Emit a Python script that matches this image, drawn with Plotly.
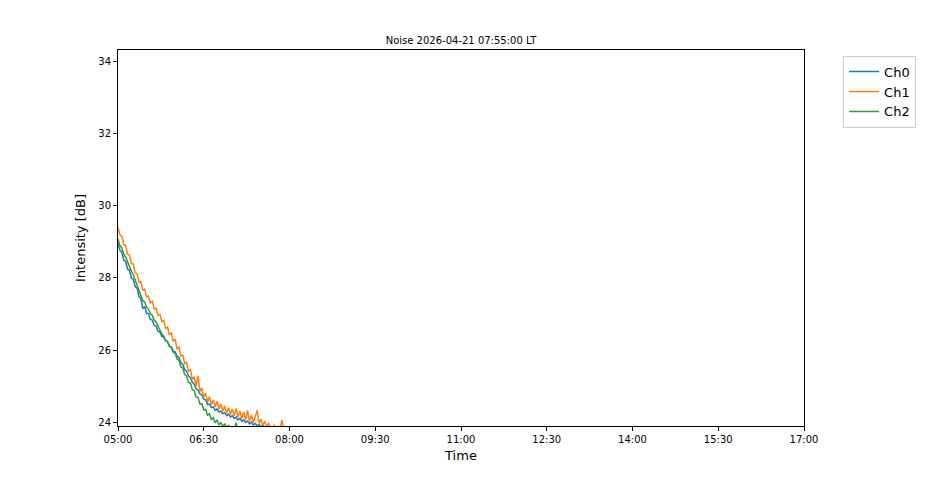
import pandas as pd
import plotly.graph_objects as go

# minutes after 05:00 local time, 2-minute sampling
minutes = list(range(0, 176, 2))

ch0 = [28.95, 28.77, 28.71, 28.50, 28.46, 28.25, 28.21, 28.00, 27.96, 27.76,
       27.72, 27.49, 27.43, 27.15, 27.21, 27.02, 27.01, 26.85, 26.83, 26.68,
       26.66, 26.52, 26.50, 26.38, 26.36, 26.25, 26.23, 26.11, 26.08, 25.97,
       25.95, 25.83, 25.79, 25.65, 25.60, 25.46, 25.41, 25.28, 25.23, 25.10,
       25.05, 24.92, 24.89, 24.78, 24.75, 24.64, 24.61, 24.49, 24.50, 24.40,
       24.42, 24.33, 24.36, 24.28, 24.30, 24.23, 24.26, 24.18, 24.22, 24.14,
       24.18, 24.10, 24.14, 24.06, 24.10, 24.02, 24.06, 23.99, 24.03, 23.95,
       24.00, 23.92, 23.96, 23.90, 23.93, 23.88, 23.90, 23.86, 23.87, 23.85,
       23.84, 23.83, 23.82, 23.81, 23.80, 23.79, 23.78, 23.77]

ch1 = [29.40, 29.20, 29.16, 28.93, 28.90, 28.66, 28.64, 28.40, 28.39, 28.14,
       28.12, 27.88, 27.90, 27.66, 27.69, 27.48, 27.50, 27.31, 27.35, 27.14,
       27.16, 26.96, 26.99, 26.79, 26.82, 26.60, 26.64, 26.43, 26.47, 26.24,
       26.30, 26.04, 26.08, 25.83, 25.86, 25.62, 25.66, 25.41, 25.45, 25.20,
       25.24, 25.00, 25.28, 24.85, 24.95, 24.70, 24.80, 24.56, 24.70, 24.48,
       24.62, 24.42, 24.58, 24.36, 24.50, 24.30, 24.45, 24.25, 24.40, 24.21,
       24.36, 24.18, 24.38, 24.14, 24.30, 24.10, 24.28, 24.06, 24.32, 24.02,
       24.20, 23.98, 24.15, 24.32, 23.96, 24.08, 23.90, 24.02, 23.86, 23.97,
       23.84, 23.83, 23.92, 23.82, 23.88, 23.80, 24.05, 23.79]

ch2 = [29.08, 28.90, 28.83, 28.67, 28.58, 28.43, 28.34, 28.19, 28.09, 27.94,
       27.84, 27.69, 27.55, 27.37, 27.33, 27.19, 27.13, 27.01, 26.96, 26.83,
       26.77, 26.65, 26.55, 26.44, 26.39, 26.27, 26.23, 26.10, 26.07, 25.93,
       25.91, 25.75, 25.72, 25.53, 25.50, 25.32, 25.28, 25.10, 25.08, 24.90,
       24.87, 24.69, 24.68, 24.50, 24.51, 24.34, 24.35, 24.19, 24.23, 24.07,
       24.12, 23.98, 24.06, 23.92, 23.99, 23.86, 23.96, 23.82, 23.92, 23.79,
       23.88, 23.76, 23.98, 23.73, 23.80, 23.71, 23.69, 23.68, 23.66, 23.65,
       23.64, 23.62, 23.61, 23.60, 23.59, 23.58, 23.57, 23.56, 23.55, 23.54,
       23.53, 23.53, 23.52, 23.52, 23.51, 23.51, 23.50, 23.50]

channel_names = ["Ch0", "Ch1", "Ch2"]
channel_colors = ["#1f77b4", "#ff7f0e", "#2ca02c"]
title_text = "Noise 2026-04-21 07:55:00 LT"

start = pd.Timestamp("2026-04-21 05:00:00")
times = [start + pd.Timedelta(minutes=m) for m in minutes]

fig = go.Figure()
for name, color, vals in zip(channel_names, channel_colors, [ch0, ch1, ch2]):
    fig.add_trace(go.Scatter(x=times, y=vals, mode="lines", name=name,
                             line=dict(color=color, width=1.5)))

font = "DejaVu Sans, Liberation Sans, sans-serif"
fig.update_layout(
    width=938, height=493,
    margin=dict(l=110, r=142, t=42, b=75),
    paper_bgcolor="white", plot_bgcolor="white",
    font=dict(family=font, color="black", size=10),
    title=dict(text=title_text, x=0.5, xref="paper", xanchor="center",
               y=1.0, yref="paper", yanchor="bottom", pad=dict(b=6),
               font=dict(size=10, family=font, color="black")),
    legend=dict(x=1.057, y=0.985, xanchor="left", yanchor="top",
                bordercolor="#cccccc", borderwidth=1,
                font=dict(size=13, family=font, color="black"),
                bgcolor="white", tracegroupgap=2),
    showlegend=True,
)
fig.update_xaxes(
    type="date",
    range=["2026-04-21 05:00:00", "2026-04-21 17:00:00"],
    dtick=5400000, tick0="2026-04-21 05:00:00", tickformat="%H:%M",
    showline=True, linecolor="black", linewidth=1, mirror=True,
    ticks="outside", ticklen=4, tickcolor="black",
    showgrid=False, zeroline=False,
    tickfont=dict(size=10, family=font),
    title=dict(text="Time", font=dict(size=13, family=font), standoff=6),
)
fig.update_yaxes(
    range=[23.89, 34.33],
    tickvals=[24, 26, 28, 30, 32, 34],
    showline=True, linecolor="black", linewidth=1, mirror=True,
    ticks="outside", ticklen=4, tickcolor="black",
    showgrid=False, zeroline=False,
    tickfont=dict(size=10, family=font),
    title=dict(text="Intensity [dB]", font=dict(size=13, family=font), standoff=9),
)

fig.write_html("out.html")
